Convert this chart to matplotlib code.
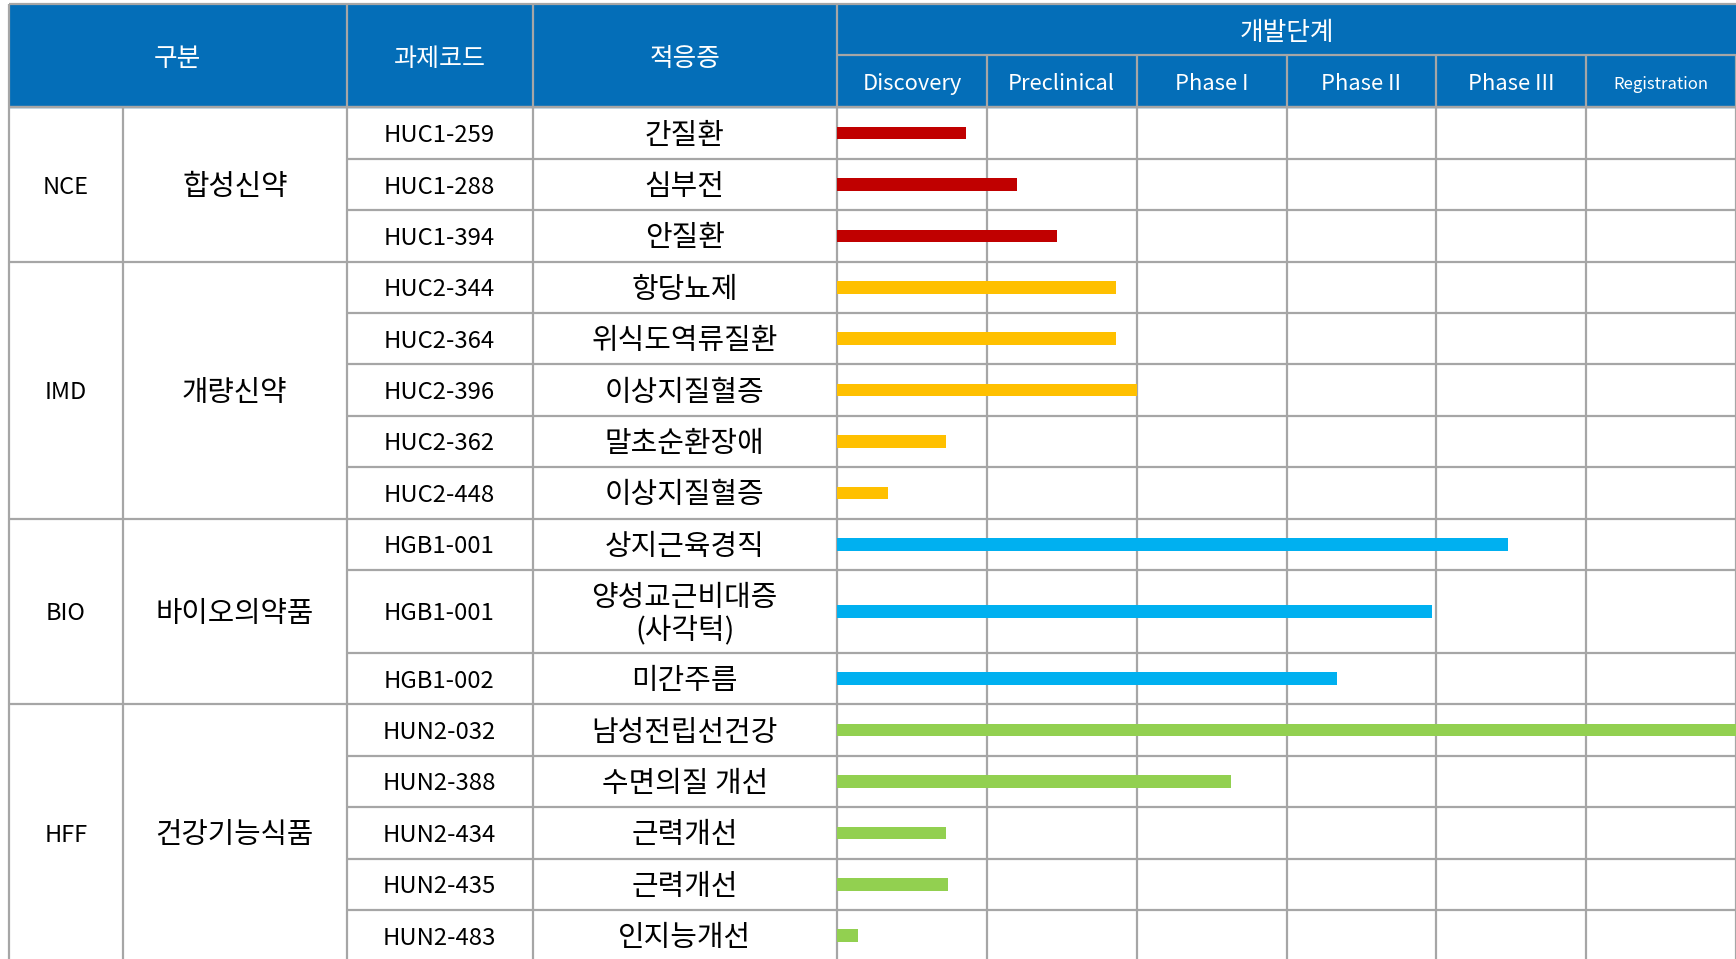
import matplotlib.pyplot as plt
from matplotlib.patches import Rectangle

# 한글 글꼴
plt.rcParams['font.family'] = ['Noto Sans CJK KR', 'DejaVu Sans']

# 데이터
groups = ["NCE", "IMD", "BIO", "HFF"]
group_names = ["합성신약", "개량신약", "바이오의약품", "건강기능식품"]
group_sizes = [3, 5, 3, 5]
bar_colors = ["#C00000", "#FFC000", "#00B0F0", "#92D050"]

codes = ["HUC1-259", "HUC1-288", "HUC1-394",
         "HUC2-344", "HUC2-364", "HUC2-396", "HUC2-362", "HUC2-448",
         "HGB1-001", "HGB1-001", "HGB1-002",
         "HUN2-032", "HUN2-388", "HUN2-434", "HUN2-435", "HUN2-483"]
indications = ["간질환", "심부전", "안질환",
               "항당뇨제", "위식도역류질환", "이상지질혈증", "말초순환장애", "이상지질혈증",
               "상지근육경직", "양성교근비대증\n(사각턱)", "미간주름",
               "남성전립선건강", "수면의질 개선", "근력개선", "근력개선", "인지능개선"]
# 진행 정도 (단계 단위, 0 = Discovery 시작)
progress = [0.86, 1.2, 1.47,
            1.86, 1.86, 2.0, 0.73, 0.34,
            4.48, 3.97, 3.34,
            6.0, 2.63, 0.73, 0.74, 0.14]
phases = ["Discovery", "Preclinical", "Phase I", "Phase II", "Phase III", "Registration"]

# 표 배치 (픽셀)
W, H = 1736, 959
x_left, x_sub, x_code, x_ind, x_bar = 9, 123, 346.5, 532.5, 837
col_w = (W - x_bar) / len(phases)
y_top, y_mid, y_head = 4.4, 55, 107.4
row_h, tall_h = 51.4, 83
line_c = "#A6A6A6"
head_c = "#046EB8"
lw = 1.6
dy = 2.5  # 글자 세로 보정

fig = plt.figure(figsize=(W / 100, H / 100), dpi=100)
ax = fig.add_axes([0, 0, 1, 1])
ax.set_xlim(0, W)
ax.set_ylim(H, 0)
ax.axis('off')

# 행 위치
row_tops = []
y = y_head
for ind in indications:
    row_tops.append(y)
    y += tall_h if "\n" in ind else row_h
row_bottom = y
row_centers = [t + ((tall_h if "\n" in ind else row_h) / 2) for t, ind in zip(row_tops, indications)]

# 헤더
ax.add_patch(Rectangle((x_left, y_top), W - x_left, y_head - y_top, color=head_c, zorder=1))
hy = (y_top + y_head) / 2 + 3
ax.text((x_left + x_code) / 2, hy, "구분", color="white", fontsize=18.5, ha="center", va="center")
ax.text((x_code + x_ind) / 2, hy, "과제코드", color="white", fontsize=18, ha="center", va="center")
ax.text((x_ind + x_bar) / 2, hy, "적응증", color="white", fontsize=18.5, ha="center", va="center")
ax.text((x_bar + W) / 2, (y_top + y_mid) / 2 + 3, "개발단계", color="white", fontsize=18.5,
        ha="center", va="center")
for i, p in enumerate(phases):
    ax.text(x_bar + (i + 0.5) * col_w, (y_mid + y_head) / 2 + 3, p, color="white",
            fontsize=12 if p == "Registration" else 15.8, ha="center", va="center")

# 선
ax.hlines([y_top, y_head], x_left, W, color=line_c, lw=lw, zorder=2)
ax.hlines(y_mid, x_bar, W, color=line_c, lw=lw, zorder=2)
ax.vlines([x_left, x_code, x_ind, x_bar], y_top, row_bottom, color=line_c, lw=lw, zorder=2)
ax.vlines([x_bar + i * col_w for i in range(1, 7)], y_mid, row_bottom, color=line_c, lw=lw, zorder=2)
ax.vlines(x_sub, y_head, row_bottom, color=line_c, lw=lw, zorder=2)

# 본문
start = 0
for g, name, n in zip(groups, group_names, group_sizes):
    g_top = row_tops[start]
    g_bot = row_tops[start + n] if start + n < len(row_tops) else row_bottom
    ax.hlines(g_top, x_left, W, color=line_c, lw=lw, zorder=2)
    for k in range(start + 1, start + n):
        ax.hlines(row_tops[k], x_code, W, color=line_c, lw=lw, zorder=2)
    yc = (g_top + g_bot) / 2 + dy
    ax.text((x_left + x_sub) / 2, yc, g, fontsize=17, ha="center", va="center")
    ax.text((x_sub + x_code) / 2, yc, name, fontsize=20.7, ha="center", va="center")
    start += n

for c, ind, yc in zip(codes, indications, row_centers):
    ax.text((x_code + x_ind) / 2, yc + dy, c, fontsize=17.2, ha="center", va="center")
    ax.text((x_ind + x_bar) / 2, yc + dy, ind, fontsize=20.8, ha="center", va="center",
            linespacing=1.1)

# 막대
bx = fig.add_axes([x_bar / W, 0, (W - x_bar) / W, 1])
bx.set_xlim(0, len(phases))
bx.set_ylim(H, 0)
bx.axis('off')
colors = []
for col, n in zip(bar_colors, group_sizes):
    colors += [col] * n
bx.barh(row_centers, progress, height=12.5, color=colors, zorder=3)

fig.savefig("out.png", dpi=100)
